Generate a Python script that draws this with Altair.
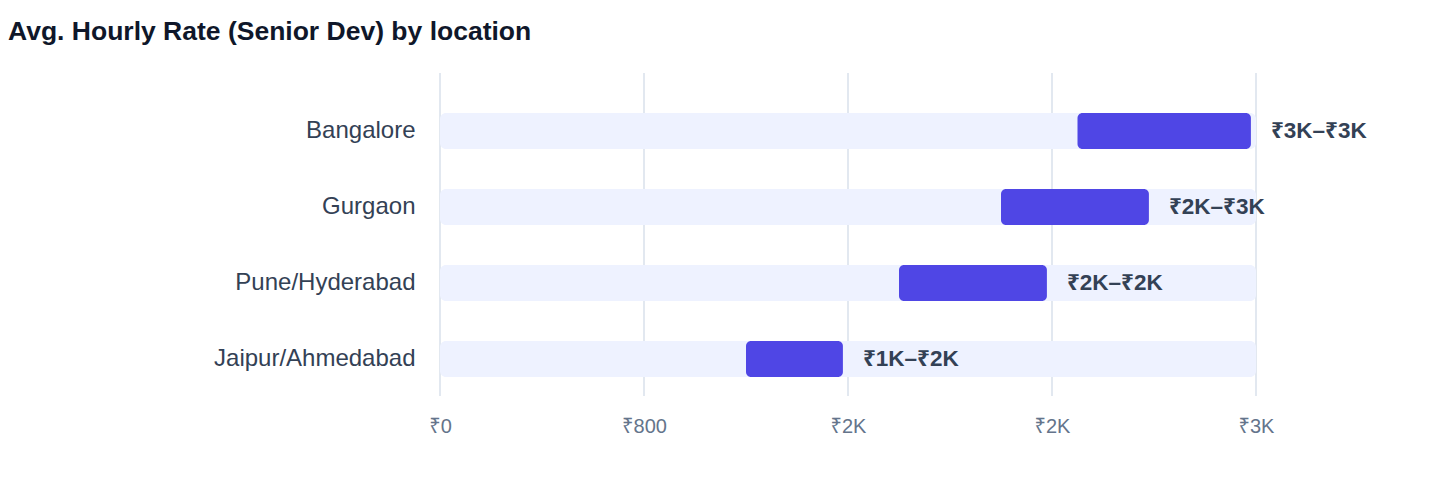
import altair as alt
import pandas as pd

locations = ["Bangalore", "Gurgaon", "Pune/Hyderabad", "Jaipur/Ahmedabad"]
low = [2500, 2200, 1800, 1200]
high = [3180, 2780, 2380, 1580]
x_ticks = [0, 800, 1600, 2400, 3200]
x_max = 3200


def fmt(v):
    return "₹" + str(int(v / 1000 + 0.5)) + "K"


labels = [fmt(a) + "–" + fmt(b) for a, b in zip(low, high)]

df = pd.DataFrame({
    "location": locations,
    "low": low,
    "high": high,
    "label": labels,
    "track_start": [0] * len(locations),
    "track_end": [x_max] * len(locations),
})
grid_df = pd.DataFrame({"tick": x_ticks})

FONT = "Liberation Sans, Noto Sans, DejaVu Sans"
PLOT_H = 323

x_scale = alt.Scale(domain=[0, x_max], nice=False, zero=True)

y_enc = alt.Y(
    "location:N",
    sort=locations,
    title=None,
    scale=alt.Scale(range=[20, 324], paddingInner=0, paddingOuter=0),
    axis=alt.Axis(
        domain=False,
        ticks=False,
        grid=False,
        labelFontSize=24,
        labelColor="#334155",
        labelPadding=25,
        labelLimit=0,
        labelFont=FONT,
        minExtent=432,
    ),
)

x_axis = alt.Axis(
    values=x_ticks,
    labelExpr="datum.value < 1000 ? '₹' + datum.value : '₹' + format(datum.value / 1000, '.0f') + 'K'",
    domain=False,
    ticks=False,
    grid=False,
    labelFontSize=20,
    labelColor="#64748B",
    labelPadding=20,
    labelFlush=False,
    labelFont=FONT,
    title=None,
)

grid = alt.Chart(grid_df).mark_rule(color="#E2E8F0", strokeWidth=2).encode(
    x=alt.X("tick:Q", scale=x_scale, axis=x_axis),
    y=alt.value(0),
    y2=alt.value(PLOT_H),
)

base = alt.Chart(df)

track = base.mark_bar(color="#EEF2FF", cornerRadius=6, height=36).encode(
    y=y_enc,
    x=alt.X("track_start:Q", scale=x_scale, axis=x_axis),
    x2="track_end:Q",
)

rng = base.mark_bar(color="#4F46E5", cornerRadius=5, height=36).encode(
    y=y_enc,
    x=alt.X("low:Q", scale=x_scale, axis=x_axis),
    x2="high:Q",
)

txt = base.mark_text(
    align="left", baseline="middle", dx=20, fontSize=22.5, fontWeight="bold",
    color="#334155", font=FONT,
).encode(
    y=y_enc,
    x=alt.X("high:Q", scale=x_scale, axis=x_axis),
    text="label:N",
)

chart = (
    alt.layer(grid, track, rng, txt)
    .properties(
        width=816,
        height=PLOT_H,
        padding={"left": 0, "top": 10, "right": 10, "bottom": 10},
        view=alt.ViewBackground(stroke="transparent", strokeWidth=0),
        title=alt.TitleParams(
            "Avg. Hourly Rate (Senior Dev) by location",
            anchor="start",
            frame="group",
            dx=-432,
            fontSize=26.5,
            fontWeight="bold",
            color="#0F172A",
            font=FONT,
            offset=27,
        ),
    )
    .configure_view(strokeWidth=0, stroke="transparent")
    .configure_axis(domain=False)
    .configure(background="white")
)

chart.save("out.html", embed_options={"renderer": "svg", "actions": False})
